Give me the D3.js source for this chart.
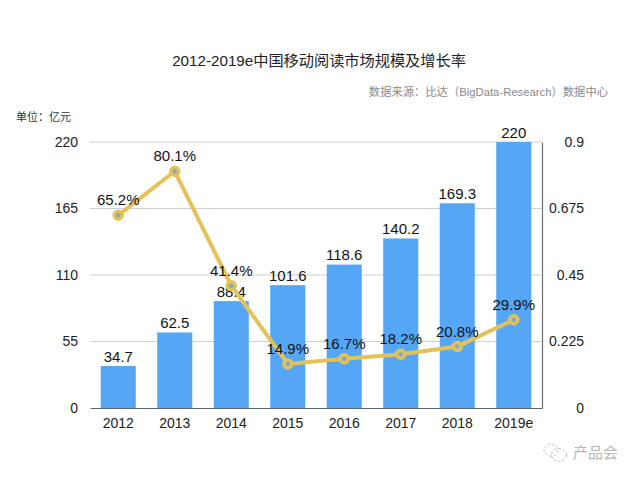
<!DOCTYPE html>
<html>
<head>
<meta charset="utf-8">
<script src="https://cdn.jsdelivr.net/npm/d3@7"></script>
<style>
  html, body { margin: 0; padding: 0; background: #fff; }
  svg { display: block; }
  text { font-family: "Liberation Sans", "Noto Sans CJK SC", sans-serif; fill: #111; }
</style>
</head>
<body>
<svg id="chart" width="640" height="480"></svg>
<script>
const years = ['2012', '2013', '2014', '2015', '2016', '2017', '2018', '2019e'];
const marketSize = [34.7, 62.5, 88.4, 101.6, 118.6, 140.2, 169.3, 220];
const growthRate = [0.652, 0.801, 0.414, 0.149, 0.167, 0.182, 0.208, 0.299];
const leftTicks = [0, 55, 110, 165, 220];
const rightTicks = [0, 0.225, 0.45, 0.675, 0.9];

const margin = { top: 142, right: 98, bottom: 72, left: 90 };
const width = 640, height = 480;

const svg = d3.select('#chart');

const x = d3.scaleBand()
  .domain(years)
  .range([margin.left, width - margin.right])
  .paddingInner(0.38)
  .paddingOuter(0.19);

const yLeft = d3.scaleLinear()
  .domain([0, 220])
  .range([height - margin.bottom, margin.top]);

const yRight = d3.scaleLinear()
  .domain([0, 0.9])
  .range([height - margin.bottom, margin.top]);

const cx = d => x(d) + x.bandwidth() / 2;

// gridlines
svg.append('g')
  .selectAll('line')
  .data(leftTicks.filter(d => d > 0))
  .join('line')
  .attr('x1', margin.left)
  .attr('x2', width - margin.right)
  .attr('y1', d => yLeft(d))
  .attr('y2', d => yLeft(d))
  .attr('stroke', '#cfcfcf')
  .attr('stroke-width', 1);

// bars
svg.append('g')
  .selectAll('rect')
  .data(years)
  .join('rect')
  .attr('x', d => x(d))
  .attr('width', x.bandwidth())
  .attr('y', (d, i) => yLeft(marketSize[i]))
  .attr('height', (d, i) => yLeft(0) - yLeft(marketSize[i]))
  .attr('fill', '#55a6f5');

// axes
const axisBottom = svg.append('g')
  .attr('transform', `translate(0, ${height - margin.bottom})`)
  .call(d3.axisBottom(x).tickSize(0).tickPadding(10));
axisBottom.select('.domain').attr('stroke', '#5c6670').attr('stroke-width', 1.2);

const axisLeft = svg.append('g')
  .attr('transform', `translate(${margin.left}, 0)`)
  .call(d3.axisLeft(yLeft).tickValues(leftTicks).tickSize(0).tickPadding(12));
axisLeft.select('.domain').remove();

const axisRight = svg.append('g')
  .attr('transform', `translate(${width - margin.right}, 0)`)
  .call(d3.axisRight(yRight).tickValues(rightTicks).tickSize(0).tickFormat(d => String(d)));
axisRight.select('.domain').attr('stroke', '#6e6e6e').attr('stroke-width', 1.2);
axisRight.selectAll('text').attr('text-anchor', 'end').attr('x', 42);

svg.selectAll('.tick text')
  .style('font-size', '14px')
  .style('font-family', '"Liberation Sans", sans-serif')
  .style('fill', '#222');

// bar labels
svg.append('g')
  .selectAll('text')
  .data(years)
  .join('text')
  .attr('x', d => cx(d))
  .attr('y', (d, i) => yLeft(marketSize[i]) - 4.5)
  .attr('text-anchor', 'middle')
  .style('font-size', '15px')
  .text((d, i) => marketSize[i]);

// growth line
const line = d3.line()
  .x(d => cx(d))
  .y((d, i) => yRight(growthRate[i]));

svg.append('path')
  .datum(years)
  .attr('fill', 'none')
  .attr('stroke', '#e4c258')
  .attr('stroke-width', 4)
  .attr('d', line);

svg.append('g')
  .selectAll('circle')
  .data(years)
  .join('circle')
  .attr('cx', d => cx(d))
  .attr('cy', (d, i) => yRight(growthRate[i]))
  .attr('r', 4)
  .attr('fill', '#7fa9c4')
  .attr('stroke', '#e4c258')
  .attr('stroke-width', 3.5);

svg.append('g')
  .selectAll('text')
  .data(years)
  .join('text')
  .attr('x', d => cx(d))
  .attr('y', (d, i) => yRight(growthRate[i]) - 10)
  .attr('text-anchor', 'middle')
  .style('font-size', '15px')
  .text((d, i) => (growthRate[i] * 100).toFixed(1) + '%');

// titles
svg.append('text')
  .attr('x', 319).attr('y', 66)
  .attr('text-anchor', 'middle')
  .style('font-size', '15.2px')
  .style('fill', '#222')
  .text('2012-2019e中国移动阅读市场规模及增长率');

svg.append('text')
  .attr('x', 608).attr('y', 96)
  .attr('text-anchor', 'end')
  .style('font-size', '11.3px')
  .style('fill', '#8a8a8a')
  .text('数据来源：比达（BigData-Research）数据中心');

svg.append('text')
  .attr('x', 16).attr('y', 121)
  .style('font-size', '11px')
  .style('fill', '#333')
  .text('单位：亿元');

// watermark
const mark = svg.append('g')
  .attr('fill', 'none')
  .attr('stroke', '#c4c4c4')
  .attr('stroke-width', 1)
  .attr('stroke-dasharray', '3 1.5');
mark.append('ellipse').attr('cx', 551).attr('cy', 450).attr('rx', 7).attr('ry', 6);
mark.append('ellipse').attr('cx', 559).attr('cy', 455).attr('rx', 7.5).attr('ry', 6.5);
svg.append('text')
  .attr('x', 573).attr('y', 458)
  .style('font-size', '15px')
  .style('fill', '#b5b5b5')
  .text('产品会');
</script>
</body>
</html>
